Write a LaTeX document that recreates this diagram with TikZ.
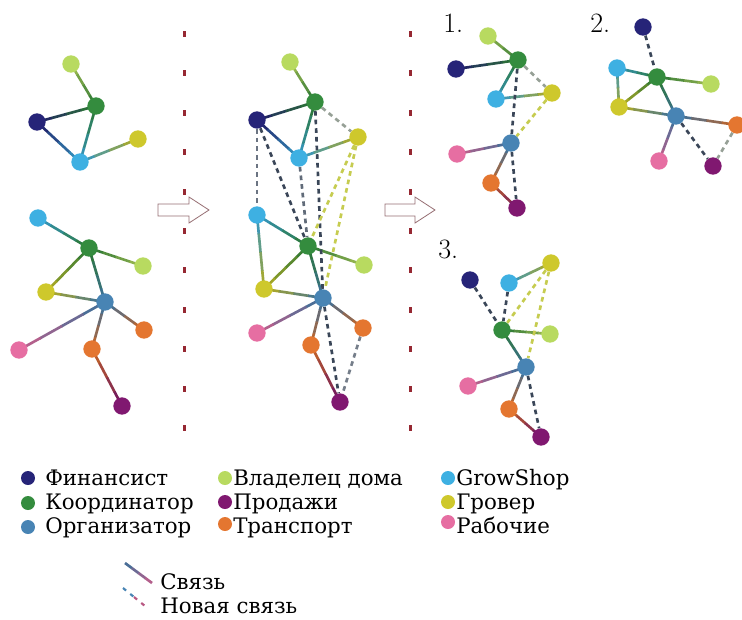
\documentclass[tikz,border=0pt]{standalone}
\usepackage{fontspec}
\setmainfont{DejaVu Serif}
\newfontfamily\lmfont{Latin Modern Roman}
\usetikzlibrary{calc}
\pgfdeclarelayer{bg}
\pgfsetlayers{bg,main}
\definecolor{cFin}{RGB}{38,36,120}
\definecolor{cCoo}{RGB}{52,140,62}
\definecolor{cOrg}{RGB}{72,132,180}
\definecolor{cOwn}{RGB}{184,218,96}
\definecolor{cSal}{RGB}{128,24,112}
\definecolor{cTra}{RGB}{228,118,48}
\definecolor{cGro}{RGB}{62,176,226}
\definecolor{cGrw}{RGB}{206,200,44}
\definecolor{cWor}{RGB}{230,110,162}
\definecolor{cDash}{RGB}{58,70,88}
\definecolor{cDashY}{RGB}{198,204,80}
\definecolor{cDashL}{RGB}{150,160,150}
\definecolor{cSep}{RGB}{150,40,50}
\definecolor{cArr}{RGB}{150,110,115}
\tikzset{
  nd/.style={circle,inner sep=0pt,minimum size=13pt,fill=#1},
  ld/.style={circle,inner sep=0pt,minimum size=10.5pt,fill=#1},
  ln/.style={line width=2pt},
  dl/.style={line width=2pt,dash pattern=on 3.5pt off 3pt},
  lt/.style={font=\rmfamily\fontsize{16}{18}\selectfont,anchor=base west,inner sep=0pt},
  pl/.style={font=\lmfont\fontsize{21}{22}\selectfont,anchor=base west,inner sep=0pt},
  sepdot/.style={fill=cSep},
  blockarrow/.style={draw=cArr,line width=0.6pt,fill=white}
}
\newcommand\lk[4]{\begin{pgfonlayer}{bg}\foreach \u/\v/\p in {0/0.26/90,0.25/0.51/65,0.5/0.76/38,0.75/1/12}{\draw[ln,draw=#3!\p!#4!85!black] ($(#1)!\u!(#2)$) -- ($(#1)!\v!(#2)$);}\end{pgfonlayer}}
\newcommand\dk[3]{\begin{pgfonlayer}{bg}\draw[dl,draw=#3] (#1) -- (#2);\end{pgfonlayer}}
\begin{document}
\begin{tikzpicture}[x=0.75pt,y=-0.75pt]
\path[use as bounding box] (0,0) rectangle (742,619);
\clip (0,0) rectangle (742,619);

% separators
\foreach \yy in {34,73.4,112.8,152.2,191.6,231,270.4,309.8,349.2,388.6,428}{
  \fill[sepdot] (183,\yy-3) rectangle (185.5,\yy+3);
  \fill[sepdot] (409,\yy-3) rectangle (411.5,\yy+3);
}
% block arrows
\draw[blockarrow] (158,204) -- (189,204) -- (189,197) -- (209,210) -- (189,223) -- (189,216) -- (158,216) -- cycle;
\draw[blockarrow] (385,204) -- (415,204) -- (415,197) -- (435,210) -- (415,223) -- (415,216) -- (385,216) -- cycle;

% ---------- Panel A ----------
\node[nd=cOwn] (aOw) at (71,64) {};
\node[nd=cCoo] (aCo) at (96,106) {};
\node[nd=cFin] (aFi) at (37,122) {};
\node[nd=cGrw] (aGw) at (138,139) {};
\node[nd=cGro] (aGs) at (80,162) {};
\lk{aOw}{aCo}{cOwn}{cCoo}
\lk{aCo}{aFi}{cCoo}{cFin}
\lk{aFi}{aGs}{cFin}{cGro}
\lk{aCo}{aGs}{cCoo}{cGro}
\lk{aGs}{aGw}{cGro}{cGrw}
\node[nd=cGro] (aGs2) at (38,218) {};
\node[nd=cCoo] (aCo2) at (89,248) {};
\node[nd=cOwn] (aOw2) at (143,266) {};
\node[nd=cGrw] (aGw2) at (46,292) {};
\node[nd=cOrg] (aOr) at (105,302) {};
\node[nd=cTra] (aTr2) at (144,330) {};
\node[nd=cWor] (aWo) at (19,350) {};
\node[nd=cTra] (aTr) at (92,349) {};
\node[nd=cSal] (aSa) at (122,406) {};
\lk{aGs2}{aCo2}{cGro}{cCoo}
\lk{aCo2}{aOw2}{cCoo}{cOwn}
\lk{aCo2}{aGw2}{cCoo}{cGrw}
\lk{aCo2}{aOr}{cCoo}{cOrg}
\lk{aGw2}{aOr}{cGrw}{cOrg}
\lk{aOr}{aTr2}{cOrg}{cTra}
\lk{aOr}{aWo}{cOrg}{cWor}
\lk{aOr}{aTr}{cOrg}{cTra}
\lk{aTr}{aSa}{cTra}{cSal}

% ---------- Panel B ----------
\node[nd=cOwn] (bOw) at (290,62) {};
\node[nd=cCoo] (bCo) at (315,102) {};
\node[nd=cFin] (bFi) at (257,120) {};
\node[nd=cGrw] (bGw) at (358,137) {};
\node[nd=cGro] (bGs) at (299,158) {};
\node[nd=cGro] (bGs2) at (257,215) {};
\node[nd=cCoo] (bCo2) at (308,246) {};
\node[nd=cOwn] (bOw2) at (364,265) {};
\node[nd=cGrw] (bGw2) at (264,289) {};
\node[nd=cOrg] (bOr) at (323,298) {};
\node[nd=cTra] (bTr2) at (363,328) {};
\node[nd=cWor] (bWo) at (257,333) {};
\node[nd=cTra] (bTr) at (311,345) {};
\node[nd=cSal] (bSa) at (340,402) {};
\lk{bOw}{bCo}{cOwn}{cCoo}
\lk{bFi}{bCo}{cFin}{cCoo}
\lk{bFi}{bGs}{cFin}{cGro}
\lk{bCo}{bGs}{cCoo}{cGro}
\lk{bGs}{bGw}{cGro}{cGrw}
\lk{bGs2}{bCo2}{cGro}{cCoo}
\lk{bGs2}{bGw2}{cGro}{cGrw}
\lk{bCo2}{bOw2}{cCoo}{cOwn}
\lk{bCo2}{bGw2}{cCoo}{cGrw}
\lk{bCo2}{bOr}{cCoo}{cOrg}
\lk{bGw2}{bOr}{cGrw}{cOrg}
\lk{bOr}{bTr2}{cOrg}{cTra}
\lk{bOr}{bWo}{cOrg}{cWor}
\lk{bOr}{bTr}{cOrg}{cTra}
\lk{bTr}{bSa}{cTra}{cSal}
\dk{bCo}{bGw}{cDashL}
\dk{bFi}{bGs2}{cDash!75!white}
\dk{bFi}{bCo2}{cDash}
\dk{bGs}{bCo2}{cDash!80!white}
\dk{bCo}{bOr}{cDash}
\dk{bGw}{bCo2}{cDashY}
\dk{bGw}{bOr}{cDashY}
\dk{bOr}{bSa}{cDash}
\dk{bTr2}{bSa}{cDash!70!white}

% ---------- Panel 1 ----------
\node[pl] (l1) at (443,32) {1.};
\node[nd=cOwn] (cOw) at (488,36) {};
\node[nd=cCoo] (cCo) at (518,60) {};
\node[nd=cFin] (cFi) at (456,69) {};
\node[nd=cGrw] (cGw) at (552,93) {};
\node[nd=cGro] (cGs) at (496,99) {};
\node[nd=cOrg] (cOr) at (511,143) {};
\node[nd=cWor] (cWo) at (457,154) {};
\node[nd=cTra] (cTr) at (491,183) {};
\node[nd=cSal] (cSa) at (517,208) {};
\lk{cOw}{cCo}{cOwn}{cCoo}
\lk{cFi}{cCo}{cFin}{cCoo}
\lk{cCo}{cGs}{cCoo}{cGro}
\lk{cGs}{cGw}{cGro}{cGrw}
\lk{cWo}{cOr}{cWor}{cOrg}
\lk{cOr}{cTr}{cOrg}{cTra}
\lk{cTr}{cSa}{cTra}{cSal}
\dk{cCo}{cGw}{cDashL}
\dk{cCo}{cOr}{cDash}
\dk{cGw}{cOr}{cDashY}
\dk{cOr}{cSa}{cDash}

% ---------- Panel 2 ----------
\node[pl] (l2) at (590,32) {2.};
\node[nd=cFin] (dFi) at (643,27) {};
\node[nd=cCoo] (dCo) at (657,77) {};
\node[nd=cGro] (dGs) at (617,68) {};
\node[nd=cOwn] (dOw) at (711,84) {};
\node[nd=cGrw] (dGw) at (619,107) {};
\node[nd=cOrg] (dOr) at (676,116) {};
\node[nd=cTra] (dTr) at (737,125) {};
\node[nd=cWor] (dWo) at (659,161) {};
\node[nd=cSal] (dSa) at (713,166) {};
\lk{dGs}{dCo}{cGro}{cCoo}
\lk{dCo}{dOw}{cCoo}{cOwn}
\lk{dGs}{dGw}{cGro}{cGrw}
\lk{dGw}{dCo}{cGrw}{cCoo}
\lk{dGw}{dOr}{cGrw}{cOrg}
\lk{dCo}{dOr}{cCoo}{cOrg}
\lk{dOr}{dTr}{cOrg}{cTra}
\lk{dOr}{dWo}{cOrg}{cWor}
\dk{dFi}{dCo}{cDash}
\dk{dOr}{dSa}{cDash}
\dk{dTr}{dSa}{cDashL}

% ---------- Panel 3 ----------
\node[pl] (l3) at (438,258) {3.};
\node[nd=cFin] (eFi) at (470,280) {};
\node[nd=cGro] (eGs) at (509,283) {};
\node[nd=cGrw] (eGw) at (551,263) {};
\node[nd=cCoo] (eCo) at (502,330) {};
\node[nd=cOwn] (eOw) at (550,334) {};
\node[nd=cOrg] (eOr) at (526,367) {};
\node[nd=cWor] (eWo) at (468,386) {};
\node[nd=cTra] (eTr) at (509,409) {};
\node[nd=cSal] (eSa) at (541,437) {};
\lk{eGs}{eGw}{cGro}{cGrw}
\lk{eCo}{eOw}{cCoo}{cOwn}
\lk{eCo}{eOr}{cCoo}{cOrg}
\lk{eOr}{eWo}{cOrg}{cWor}
\lk{eOr}{eTr}{cOrg}{cTra}
\lk{eTr}{eSa}{cTra}{cSal}
\dk{eFi}{eCo}{cDash}
\dk{eGs}{eCo}{cDash}
\dk{eGw}{eCo}{cDashY}
\dk{eGw}{eOr}{cDashY}
\dk{eOr}{eSa}{cDash}

% ---------- Legend ----------
\node[ld=cFin] (k1) at (28,478) {};
\node[ld=cCoo] (k2) at (28,503) {};
\node[ld=cOrg] (k3) at (28,527) {};
\node[lt] (t1) at (45,485) {Финансист};
\node[lt] (t2) at (45,509) {Координатор};
\node[lt] (t3) at (45,533) {Организатор};
\node[ld=cOwn] (k4) at (225,478) {};
\node[ld=cSal] (k5) at (225,502) {};
\node[ld=cTra] (k6) at (225,524) {};
\node[lt] (t4) at (233,485) {Владелец дома};
\node[lt] (t5) at (233,509) {Продажи};
\node[lt] (t6) at (233,533) {Транспорт};
\node[ld=cGro] (k7) at (448,478) {};
\node[ld=cGrw] (k8) at (448,502) {};
\node[ld=cWor] (k9) at (448,522) {};
\node[lt] (t7) at (456,485) {GrowShop};
\node[lt] (t8) at (456,509) {Гровер};
\node[lt] (t9) at (456,533) {Рабочие};

\coordinate (s1) at (125,563);
\coordinate (s2) at (152,583);
\lk{s1}{s2}{cOrg}{cWor}
\coordinate (n1) at (123,588);
\coordinate (n2) at (145,606);
\begin{pgfonlayer}{bg}
\draw[dl,draw=cOrg,line width=1.6pt,dash pattern=on 3pt off 4pt] (n1) -- ($(n1)!0.5!(n2)$);
\draw[dl,draw=cWor!80!black,line width=1.6pt,dash pattern=on 3pt off 4pt] ($(n1)!0.5!(n2)$) -- (n2);
\end{pgfonlayer}
\node[lt] (t10) at (160,589) {Связь};
\node[lt] (t11) at (160,613) {Новая связь};
\end{tikzpicture}
\end{document}
